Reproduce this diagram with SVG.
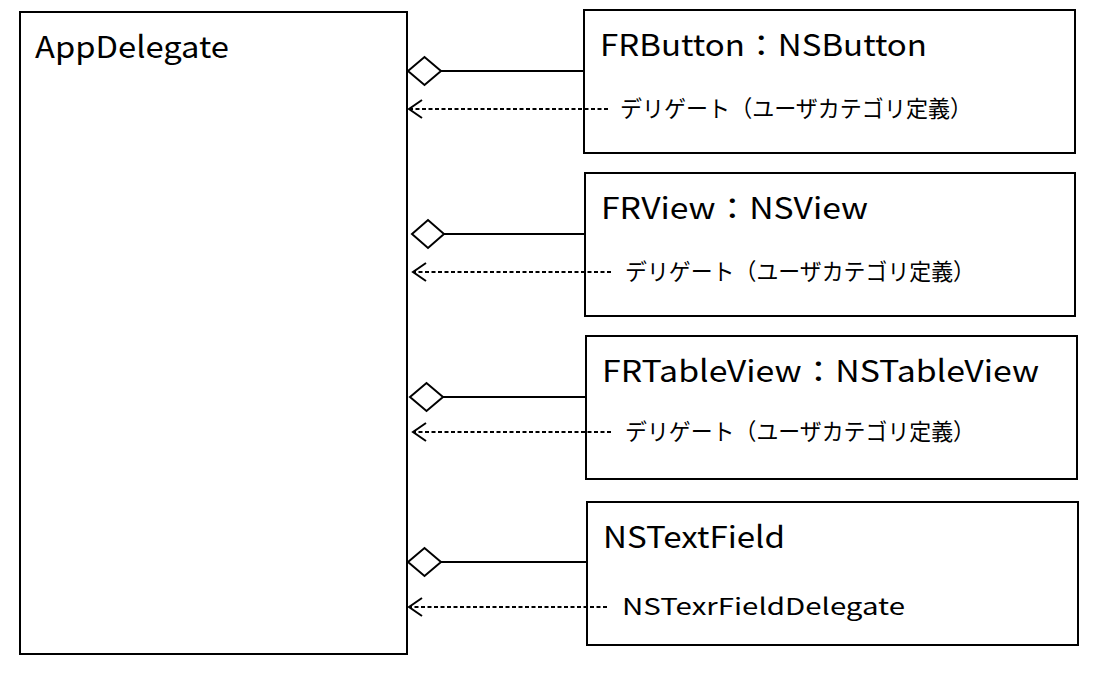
<svg xmlns="http://www.w3.org/2000/svg" width="1101" height="685" viewBox="0 0 1101 685">
<style>
.box{fill:#fff;stroke:#000;stroke-width:2}
.t{font-family:"Noto Sans CJK JP","Noto Sans",sans-serif;fill:#000}
.title{font-size:30px}
.sub{font-size:23px}
.solid{stroke:#000;stroke-width:2;fill:none}
.dash{stroke:#000;stroke-width:2;fill:none;stroke-dasharray:4 2.5}
.dia{fill:#fff;stroke:#000;stroke-width:2}
.head{fill:none;stroke:#000;stroke-width:2}
</style>
<rect width="1101" height="685" fill="#fff"/>
<g id="AppDelegate">
<rect class="box" x="20" y="12" width="387" height="642"/>
<text class="t title" x="35" y="58" textLength="194" lengthAdjust="spacingAndGlyphs">AppDelegate</text>
</g>
<g id="FRButton">
<rect class="box" x="584" y="10" width="491" height="143"/>
<text class="t title" x="600" y="56" textLength="327" lengthAdjust="spacingAndGlyphs">FRButton：NSButton</text>
</g>
<g id="FRView">
<rect class="box" x="585" y="173" width="490" height="143"/>
<text class="t title" x="601" y="219" textLength="267" lengthAdjust="spacingAndGlyphs">FRView：NSView</text>
</g>
<g id="FRTableView">
<rect class="box" x="586" y="336" width="491" height="143"/>
<text class="t title" x="602" y="382" textLength="437" lengthAdjust="spacingAndGlyphs">FRTableView：NSTableView</text>
</g>
<g id="NSTextField">
<rect class="box" x="587" y="502" width="491" height="143"/>
<text class="t title" x="603" y="548" textLength="182" lengthAdjust="spacingAndGlyphs">NSTextField</text>
</g>
<g id="connectors">
<path class="solid" d="M441 71 H584"/>
<polygon class="dia" points="408,71 424.5,57 441,71 424.5,85"/>
<path class="dash" d="M608 109 H409"/>
<path class="head" d="M422 100 L409 109 L422 118"/>
<text class="t sub" x="620" y="117" textLength="352" lengthAdjust="spacingAndGlyphs">デリゲート（ユーザカテゴリ定義）</text>

<path class="solid" d="M444 234 H585"/>
<polygon class="dia" points="412,234 428,220 444,234 428,248"/>
<path class="dash" d="M611 272 H413"/>
<path class="head" d="M426 263 L413 272 L426 281"/>
<text class="t sub" x="625" y="280" textLength="350" lengthAdjust="spacingAndGlyphs">デリゲート（ユーザカテゴリ定義）</text>

<path class="solid" d="M443 397 H586"/>
<polygon class="dia" points="410,397 426.5,383 443,397 426.5,411"/>
<path class="dash" d="M611 432 H413"/>
<path class="head" d="M426 423 L413 432 L426 441"/>
<text class="t sub" x="625" y="440" textLength="350" lengthAdjust="spacingAndGlyphs">デリゲート（ユーザカテゴリ定義）</text>

<path class="solid" d="M441 562 H587"/>
<polygon class="dia" points="408,562 424.5,548 441,562 424.5,576"/>
<path class="dash" d="M607 607 H409"/>
<path class="head" d="M422 598 L409 607 L422 616"/>
<text class="t sub" x="622" y="615" textLength="283" lengthAdjust="spacingAndGlyphs">NSTexrFieldDelegate</text>
</g>
</svg>
